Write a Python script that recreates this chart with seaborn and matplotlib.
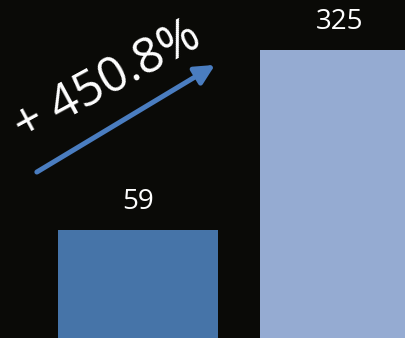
import matplotlib
matplotlib.use("Agg")
import matplotlib.pyplot as plt
import seaborn as sns
import pandas as pd

# Data
categories = ["Before", "After"]
values = [59, 325]
bar_colors = ["#4674a8", "#95abd2"]
change_label = "+ 450.8%"

# axis minimum (chart is cropped, bars run from below the visible area)
BASE = -150
YLIM = (-100.6, 398.9)
XLIM = (-0.683, 1.322)

BG = "#0a0a07"

sns.set_theme(style="white")
plt.rcParams["font.family"] = ["Open Sans", "DejaVu Sans"]

fig = plt.figure(figsize=(4.05, 3.38), dpi=100, facecolor=BG)
ax = fig.add_axes([0, 0, 1, 1])
ax.set_facecolor(BG)

df = pd.DataFrame({"cat": categories, "height": [v - BASE for v in values]})
sns.barplot(data=df, x="cat", y="height", hue="cat", palette=bar_colors,
            width=0.792, bottom=BASE, legend=False, ax=ax, saturation=1,
            linewidth=0, edgecolor="none")

ax.set_xlim(*XLIM)
ax.set_ylim(*YLIM)
ax.axis("off")

# value labels
for i, v in enumerate(values):
    ax.annotate(str(v), xy=(i, v), xytext=(0, 15), textcoords="offset points",
                ha="center", va="baseline", color="white", fontsize=20)

# growth arrow + label
ax.annotate("", xy=(0.531, 0.808), xytext=(0.091, 0.491), xycoords="axes fraction",
            arrowprops=dict(arrowstyle="-|>,head_length=0.9,head_width=0.45",
                            lw=3.6, color="#4a7dc0", mutation_scale=13,
                            shrinkA=0, shrinkB=0))
ax.text(0.267, 0.758, change_label, transform=ax.transAxes, rotation=28.5,
        rotation_mode="anchor", ha="center", va="center", color="white",
        fontsize=35, fontweight="normal")

fig.savefig("out.png", dpi=100, facecolor=BG)
